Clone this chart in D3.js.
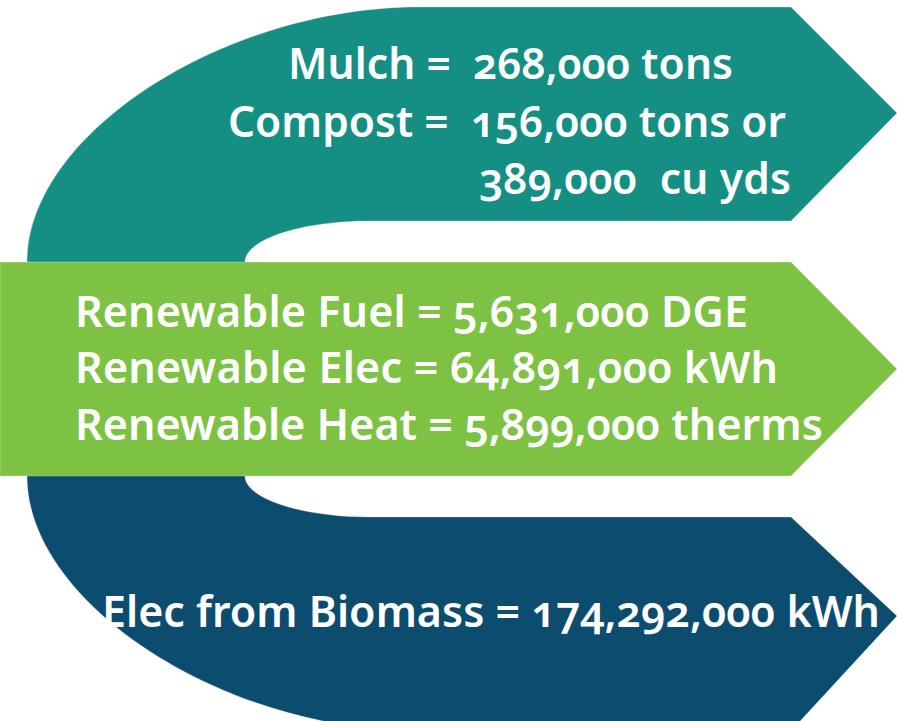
<!DOCTYPE html>
<html>
<head>
<meta charset="utf-8">
<script src="https://cdn.jsdelivr.net/npm/d3@7"></script>
<style>
  body { margin: 0; background: #fff; }
  svg text { white-space: pre; }
</style>
</head>
<body>
<div id="chart"></div>
<script>
// what comes out of each arrow
const products = ["Mulch", "Compost", "Renewable Fuel", "Renewable Elec", "Renewable Heat", "Elec from Biomass"];
const amounts  = [268000, 156000, 5631000, 64891000, 5899000, 174292000];
const units    = ["tons", "tons or", "DGE", "kWh", "therms", "kWh"];
const arrowOf  = [0, 0, 1, 1, 1, 2];
const compostCuYds = 389000;

const arrowColors = ["#158f83", "#7ec244", "#0c4c6e"];

var W = 897, H = 721;
var fmt = d3.format(",");

var svg = d3.select("#chart").append("svg")
    .attr("width", W)
    .attr("height", H);

// ---- shapes ----
// top teal arm (curves round the left side)
var k = 0.5, ki = 0.55;
var teal = d3.path();
teal.moveTo(27, 270);
teal.lineTo(27, 262);
teal.bezierCurveTo(27, 262 - k * 255, 420 - k * 393, 7, 420, 7);
teal.lineTo(791, 7);
teal.lineTo(897, 113);
teal.lineTo(791, 221);
teal.lineTo(370, 221);
teal.bezierCurveTo(370 - ki * 125, 221, 245, 262 - ki * 41, 245, 262);
teal.lineTo(245, 270);
teal.closePath();

// bottom navy arm
var navy = d3.path();
navy.moveTo(27, 468);
navy.lineTo(245, 468);
navy.lineTo(245, 476);
navy.bezierCurveTo(245, 476 + ki * 41, 370 - ki * 125, 517, 370, 517);
navy.lineTo(791, 517);
navy.lineTo(897, 616);
navy.lineTo(791, 731);
navy.lineTo(420, 731);
navy.bezierCurveTo(420 - k * 393, 731, 27, 731 - k * 255, 27, 476);
navy.closePath();

// middle green arrow
var green = d3.path();
green.moveTo(0, 262);
green.lineTo(791, 262);
green.lineTo(897, 369);
green.lineTo(791, 476);
green.lineTo(0, 476);
green.closePath();

svg.selectAll("path.arm")
  .data([{p: teal, c: arrowColors[0]}, {p: navy, c: arrowColors[2]}, {p: green, c: arrowColors[1]}])
  .enter().append("path")
    .attr("class", "arm")
    .attr("d", d => d.p.toString())
    .style("fill", d => d.c)
    .style("stroke", "rgba(255,255,255,0.35)")
    .style("stroke-width", 0.8);

// ---- text ----
var lines = products.map(function(p, i){
    var sep = arrowOf[i] === 0 ? " =  " : " = ";
    return {text: p + sep + fmt(amounts[i]) + " " + units[i], arrow: arrowOf[i]};
});
lines.splice(2, 0, {text: fmt(compostCuYds) + "  cu yds", arrow: 0});

// where each line sits (start x, baseline, width)
var layout = [
    {x: 288, y: 79,  w: 445},
    {x: 228, y: 137, w: 558},
    {x: 479, y: 194, w: 312},
    {x: 75,  y: 327, w: 673},
    {x: 75,  y: 383, w: 703},
    {x: 75,  y: 440, w: 748},
    {x: 102, y: 627, w: 778}
];

var txt = svg.selectAll("text.lbl")
  .data(lines)
  .enter().append("text")
    .attr("class", "lbl")
    .attr("x", (d, i) => layout[i].x)
    .attr("y", (d, i) => layout[i].y)
    .style("fill", "#fff")
    .style("font-family", "'Noto Sans', Lato, sans-serif")
    .style("font-weight", 600)
    .style("font-stretch", "92%")
    .style("font-size", "100px")
    .style("font-variant-numeric", "oldstyle-nums")
    .style("font-feature-settings", "'onum' 1")
    .text(d => d.text);

// fit font size per arrow on its longest line
var sizes = {};
txt.each(function(d, i){
    var s = layout[i].w / this.getComputedTextLength() * 100;
    if (sizes[d.arrow] === undefined || s < sizes[d.arrow]) sizes[d.arrow] = s;
});
txt.style("font-size", d => Math.min(sizes[d.arrow], 45) + "px")
   .attr("textLength", (d, i) => layout[i].w)
   .attr("lengthAdjust", "spacing");
</script>
</body>
</html>
